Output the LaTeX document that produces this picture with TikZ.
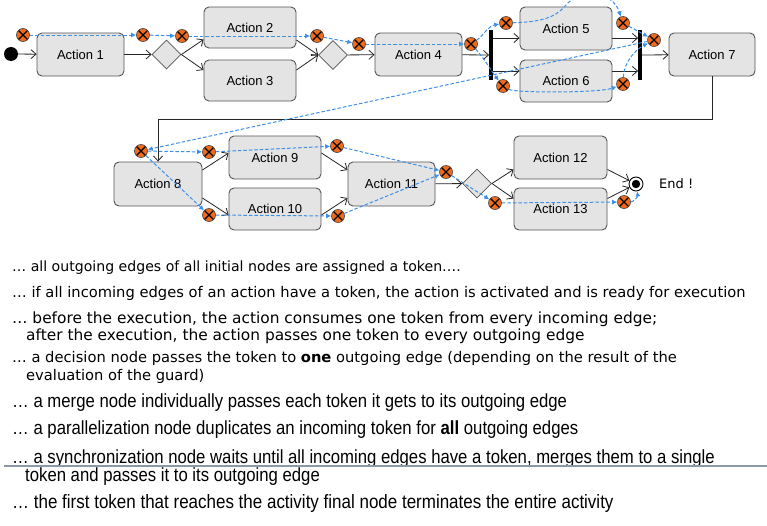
\documentclass[tikz,border=0pt]{standalone}
\usepackage{fontspec}
\setmainfont{DejaVu Sans}
\newfontfamily\actfont{Liberation Sans}
\newfontfamily\narrowfont[FakeStretch=0.88]{Liberation Sans}
\usetikzlibrary{arrows.meta,shapes.geometric}
\definecolor{boxfill}{HTML}{E4E4E4}
\definecolor{boxdraw}{HTML}{555555}
\definecolor{tokblue}{HTML}{3D8FE8}
\definecolor{tokorange}{HTML}{F26A1B}
\definecolor{rulegray}{HTML}{8C97A8}
\begin{document}
\begin{tikzpicture}[x=1pt,y=-1pt,
  action/.style={draw=boxdraw, fill=boxfill, rounded corners=5pt, minimum width=88pt, minimum height=43pt, line width=0.9pt, font=\actfont\fontsize{13}{15}\selectfont, inner sep=0pt},
  decision/.style={diamond, draw=boxdraw, fill=boxfill, minimum width=29pt, minimum height=29pt, inner sep=0pt, line width=0.8pt},
  syncbar/.style={fill=black, minimum width=3.5pt, minimum height=50pt, inner sep=0pt},
  flow/.style={draw=black!85, line width=0.8pt, -{Straight Barb[length=5pt,width=9pt]}},
  token/.style={circle, fill=tokorange, draw=black!75, line width=0.6pt, minimum size=13pt, inner sep=0pt,
    path picture={\draw[black, line width=1.1pt] (path picture bounding box.north west) -- (path picture bounding box.south east) (path picture bounding box.north east) -- (path picture bounding box.south west);}},
  move/.style={draw=tokblue, line width=1pt, dash pattern=on 3.5pt off 2pt, -{Latex[length=5pt,width=5pt]}},
  txt/.style={anchor=west, inner sep=0pt},
  ntxt/.style={anchor=west, inner sep=0pt, font=\narrowfont\fontsize{19}{21}\selectfont},
]
\clip (0,0) rectangle (767,525);
\fill[white] (0,0) rectangle (767,525);

% ---- activity nodes
\node[circle, fill=black, minimum size=14pt, inner sep=0pt] (init) at (11,54) {};
\node[action, minimum width=87pt] (a1) at (80.5,54.5) {Action 1};
\node[decision] (d1) at (166.5,54.5) {};
\node[action, minimum width=92pt, minimum height=41pt] (a2) at (250,27.5) {Action 2};
\node[action, minimum width=92pt, minimum height=41pt] (a3) at (250,80.5) {Action 3};
\node[decision] (m1) at (333,55) {};
\node[action, minimum width=87pt] (a4) at (418.5,54.5) {Action 4};
\node[syncbar] (f1) at (491,55) {};
\node[action, minimum width=92pt] (a5) at (566,28.5) {Action 5};
\node[action, minimum width=92pt, minimum height=42pt] (a6) at (566,81) {Action 6};
\node[syncbar] (j1) at (640,55) {};
\node[action, minimum width=86pt] (a7) at (712,54.5) {Action 7};
\node[action, minimum width=88pt, minimum height=44pt] (a8) at (158,184) {Action 8};
\node[action, minimum width=92pt] (a9) at (275,157.5) {Action 9};
\node[action, minimum width=92pt, minimum height=42pt] (a10) at (275,209) {Action 10};
\node[action, minimum width=87pt, minimum height=44pt] (a11) at (391.5,184) {Action 11};
\node[decision] (d3) at (477,183.5) {};
\node[action, minimum width=93pt] (a12) at (560.5,157.5) {Action 12};
\node[action, minimum width=93pt, minimum height=42pt] (a13) at (560.5,209) {Action 13};
\node[circle, draw=black, line width=0.9pt, fill=white, minimum size=14pt, inner sep=0pt] (fin) at (636,184) {};
\fill[black] (fin.center) circle (4.2pt);
\node[anchor=west, inner sep=0pt, font=\fontsize{13}{15}\selectfont] (endtxt) at (659,184) {End !};
\coordinate (bend) at (712,119.5);

% ---- control flow
\draw[flow] (init) -- (a1);
\draw[flow] (a1) -- (d1);
\draw[flow] (d1.east) -- ([yshift=-12pt]a2.west);
\draw[flow] (d1.east) -- ([yshift=10.5pt]a3.west);
\draw[flow] ([yshift=-12.5pt]a2.east) -- (m1.west);
\draw[flow] ([yshift=10.5pt]a3.east) -- (m1.west);
\draw[flow] (m1) -- (a4);
\draw[flow] (a4) -- (f1);
\draw[flow] ([yshift=17pt]f1.east) -- ([yshift=-9.5pt]a5.west);
\draw[flow] ([yshift=-16pt]f1.east) -- ([yshift=10pt]a6.west);
\draw[flow] ([yshift=-9.5pt]a5.east) -- ([yshift=17pt]j1.west);
\draw[flow] ([yshift=10pt]a6.east) -- ([yshift=-16pt]j1.west);
\draw[flow] (j1) -- (a7);
\draw[flow] (a7.south) -- (bend) -| (a8.north);
\draw[flow] ([yshift=14pt]a8.east) -- ([yshift=4.5pt]a9.west);
\draw[flow] ([yshift=-14pt]a8.east) -- ([yshift=-6pt]a10.west);
\draw[flow] ([yshift=4.5pt]a9.east) -- ([yshift=14pt]a11.west);
\draw[flow] ([yshift=-6pt]a10.east) -- ([yshift=-14pt]a11.west);
\draw[flow] (a11) -- (d3);
\draw[flow] (d3.east) -- ([yshift=-12pt]a12.west);
\draw[flow] (d3.east) -- ([yshift=10.5pt]a13.west);
\draw[flow] ([yshift=-12pt]a12.east) -- (fin);
\draw[flow] ([yshift=10.5pt]a13.east) -- (fin);

% ---- tokens
\node[token] (t1) at (23,35) {};
\node[token] (t2) at (143,35) {};
\node[token] (t3) at (182,36) {};
\node[token] (t4) at (317,36) {};
\node[token] (t5) at (359,44) {};
\node[token] (t6) at (471,44) {};
\node[token] (t7) at (506,23) {};
\node[token] (t8) at (503,86) {};
\node[token] (t9) at (623,23) {};
\node[token] (t10) at (654,40) {};
\node[token] (t11) at (623,84) {};
\node[token] (t12) at (141,151) {};
\node[token] (t13) at (209,152) {};
\node[token] (t14) at (337,146) {};
\node[token] (t15) at (209,215) {};
\node[token] (t16) at (338,216) {};
\node[token] (t17) at (446,172) {};
\node[token] (t18) at (495,203) {};
\node[token] (t19) at (624,202) {};

% ---- token moves
\draw[move] (t1) -- (t2);
\draw[move] (t2) -- (t3);
\draw[move] (t3) -- (t4);
\draw[move] (t4) -- (t5);
\draw[move] (t5) -- (t6);
\draw[move] (t6) .. controls (483,36) and (488,26) .. (t7);
\draw[move] (t6) .. controls (484,58) and (492,72) .. (t8);
\draw[move] (t7) .. controls (540,22) and (555,18) .. (565,6) .. controls (580,-12) and (612,-10) .. (t9);
\draw[move] (t8) .. controls (515,93) and (600,93) .. (t11);
\draw[move] (t9) -- (t10);
\draw[move] (t11) .. controls (624,62) and (635,50) .. (t10);
\draw[move] (t10) -- (t12);
\draw[move] (t12) -- (t13);
\draw[move] (t12) -- (t15);
\draw[move] (t13) -- (t14);
\draw[move] (t15) -- (t16);
\draw[move] (t14) -- (t17);
\draw[move] (t16) -- (t17);
\draw[move] (t17) -- (t18);
\draw[move] (t18) -- (t19);
\draw[move] (t19) .. controls (633,202) and (638,197) .. (fin);

% ---- explanations
\node[txt, font=\fontsize{14.1}{17}\selectfont] (l1) at (12,268) {… all outgoing edges of all initial nodes are assigned a token….};
\node[txt, font=\fontsize{14.7}{17}\selectfont] (l2) at (12,293) {… if all incoming edges of an action have a token, the action is activated and is ready for execution};
\node[txt, font=\fontsize{15.4}{17}\selectfont] (l3a) at (12,319) {… before the execution, the action consumes one token from every incoming edge;};
\node[txt, font=\fontsize{15.4}{17}\selectfont] (l3b) at (26,336) {after the execution, the action passes one token to every outgoing edge};
\node[txt, font=\fontsize{14.7}{17}\selectfont] (l4a) at (12,358) {… a decision node passes the token to \textbf{one} outgoing edge (depending on the result of the};
\node[txt, font=\fontsize{14.7}{17}\selectfont] (l4b) at (26,376) {evaluation of the guard)};
\node[ntxt] (l5) at (12,403) {… a merge node individually passes each token it gets to its outgoing edge};
\node[ntxt] (l6) at (12,430) {… a parallelization node duplicates an incoming token for \textbf{all} outgoing edges};
\node[ntxt] (l7a) at (12,459) {… a synchronization node waits until all incoming edges have a token, merges them to a single};
\node[ntxt] (l7b) at (25,477) {token and passes it to its outgoing edge};
\node[ntxt, font=\narrowfont\fontsize{19.3}{21}\selectfont] (l8) at (12,503) {… the first token that reaches the activity final node terminates the entire activity};
\coordinate (rulel) at (4,466);
\coordinate (ruler) at (767,466);
\draw[rulegray, line width=1.2pt] (rulel) -- (ruler);
\end{tikzpicture}
\end{document}
